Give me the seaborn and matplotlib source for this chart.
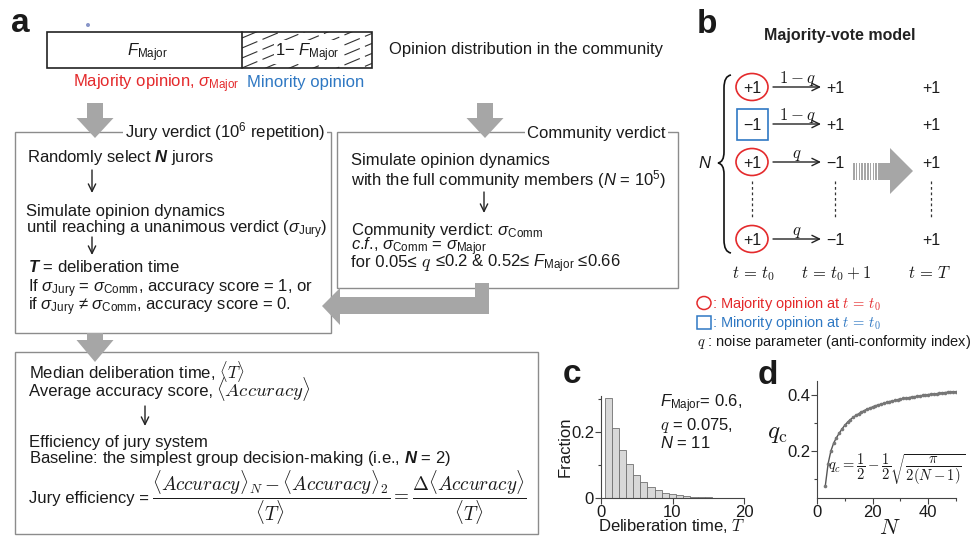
import matplotlib
matplotlib.use('Agg')
import matplotlib.pyplot as plt
import seaborn as sns
from matplotlib.patches import Rectangle, Ellipse, Polygon, PathPatch
from matplotlib.path import Path

# panel c: fraction of trials per deliberation time T
delib_T = list(range(1, 20))
delib_frac = [0.305, 0.214, 0.146, 0.102, 0.071, 0.049, 0.034, 0.023, 0.016, 0.011,
              0.008, 0.0055, 0.004, 0.003, 0.002, 0.0015, 0.001, 0.0008, 0.0005]
delib_edges = [t - 0.5 for t in delib_T] + [delib_T[-1] + 0.5]

# panel d: critical noise q_c vs jury size N
jury_N = list(range(3, 51))
qc_vals = [0.077, 0.155, 0.200, 0.228, 0.247, 0.263, 0.278, 0.291, 0.302, 0.311,
           0.319, 0.326, 0.332, 0.338, 0.343, 0.348, 0.352, 0.356, 0.360, 0.363,
           0.366, 0.369, 0.372, 0.375, 0.377, 0.379, 0.382, 0.384, 0.386, 0.387,
           0.389, 0.391, 0.392, 0.394, 0.395, 0.397, 0.398, 0.400, 0.401, 0.402,
           0.403, 0.404, 0.406, 0.407, 0.408, 0.409, 0.410, 0.410]

c_xticks = [0, 10, 20]
c_yticks = [0, 0.2]
c_yticklabels = ['0', '0.2']
d_xticks = [0, 20, 40]
d_yticks = [0.2, 0.4]
d_yticklabels = ['0.2', '0.4']

RED = '#e42a2c'
BLUE = '#2f78c3'
ARROW = '#a6a6a6'
BOXC = '#8c8c8c'
INK = '#1a1a1a'

S_MAJ = r'_{\rm Major}'
S_JURY = r'_{\rm Jury}'
S_COMM = r'_{\rm Comm}'

sns.set_style('ticks')
plt.rcParams['font.family'] = ['Liberation Sans', 'DejaVu Sans']
plt.rcParams['mathtext.fontset'] = 'custom'
plt.rcParams['mathtext.rm'] = 'Liberation Sans'
plt.rcParams['mathtext.it'] = 'Liberation Sans:italic'
plt.rcParams['mathtext.bf'] = 'Liberation Sans:italic:bold'
plt.rcParams['font.size'] = 12
plt.rcParams['text.color'] = INK

fig = plt.figure(figsize=(9.73, 5.38), dpi=100)
bg = fig.add_axes([0, 0, 1, 1])
bg.set_xlim(0, 973)
bg.set_ylim(538, 0)
bg.axis('off')
renderer = fig.canvas.get_renderer()


def put(ax, x, y, parts, size=12, color=INK, **kw):
    # lay text pieces side by side; numbers are extra gaps in pixels
    for p in parts:
        if isinstance(p, (int, float)):
            x += p
            continue
        if isinstance(p, tuple):
            s, fam = p[0], p[1]
            sz = p[2] if len(p) > 2 else size
        else:
            s, fam, sz = p, 'custom', size
        t = ax.text(x, y, s, fontsize=sz, color=color, math_fontfamily=fam,
                    va='baseline', ha='left', transform=bg.transData, **kw)
        x += t.get_window_extent(renderer).width
    return x


def thin_arrow(x0, y0, x1, y1):
    bg.annotate('', xy=(x1, y1), xytext=(x0, y0),
                arrowprops=dict(arrowstyle='->,head_length=0.45,head_width=0.22',
                                lw=1.0, color='#222', shrinkA=0, shrinkB=0))


def box(x0, y0, x1, y1):
    bg.add_patch(Rectangle((x0, y0), x1 - x0, y1 - y0, fill=False, ec=BOXC, lw=1.0, zorder=1))


def down_arrow(xc, y0, y1, y2, sw=8, hw=18.5):
    bg.add_patch(Polygon([(xc - sw, y0), (xc + sw, y0), (xc + sw, y1), (xc + hw, y1),
                          (xc, y2), (xc - hw, y1), (xc - sw, y1)], closed=True,
                         fc=ARROW, ec='none', zorder=5))


# ---------------- panel a ----------------
bg.text(20, 32, 'a', fontsize=24, fontweight='bold', ha='center', va='baseline')
bg.add_patch(Ellipse((88, 25), 4, 4, fc='#8895c8', ec='none'))
bg.add_patch(Rectangle((47, 32), 325, 36, fill=False, ec='#222', lw=1.2, zorder=3))
bg.plot([242, 242], [32, 68], color='#222', lw=1.2, zorder=3)
clip = Rectangle((242, 32), 130, 36, fill=False, ec='none')
bg.add_patch(clip)
for y0 in range(38, 130, 10):
    ln, = bg.plot([242, 372], [y0, y0 - 0.42 * 130], color='#333', lw=0.8,
                  ls=(0, (15, 5)), zorder=2)
    ln.set_clip_path(clip)
bg.text(148, 56, '$F' + S_MAJ + '$', fontsize=12, ha='center', va='baseline')
bg.text(307, 56, '1− $F' + S_MAJ + '$', fontsize=12, ha='center', va='baseline',
        bbox=dict(fc='white', ec='none', pad=0.5), zorder=4)
bg.text(389, 54, 'Opinion distribution in the community', fontsize=12, va='baseline')
bg.text(73, 87, r'Majority opinion, $\sigma' + S_MAJ + '$', fontsize=12, color=RED, va='baseline')
bg.text(247, 87, 'Minority opinion', fontsize=12, color=BLUE, va='baseline')

down_arrow(95, 103, 118, 138)
down_arrow(485, 103, 118, 138)

# jury box
box(15, 132, 331, 333)
bg.text(125, 137, r'Jury verdict (10$^6$ repetition)', fontsize=12, va='baseline',
        bbox=dict(fc='white', ec='none', pad=1.5), zorder=2)
bg.text(27, 162, r'Randomly select $\mathbf{N}$ jurors', fontsize=12, va='baseline')
thin_arrow(92, 170, 92, 193)
bg.text(26, 216, 'Simulate opinion dynamics', fontsize=12, va='baseline')
bg.text(26, 233, r'until reaching a unanimous verdict ($\sigma' + S_JURY + '$)', fontsize=12, va='baseline')
thin_arrow(92, 237, 92, 255)
bg.text(28, 272, r'$\mathbf{T}$ = deliberation time', fontsize=12, va='baseline')
bg.text(28, 292, r'If $\sigma' + S_JURY + r'$ = $\sigma' + S_COMM + '$, accuracy score = 1, or',
        fontsize=12, va='baseline')
bg.text(28, 310, r'if $\sigma' + S_JURY + r'$ ≠ $\sigma' + S_COMM + '$, accuracy score = 0.',
        fontsize=12, va='baseline')

# community box
box(337, 132, 678, 288)
bg.text(527, 138, 'Community verdict', fontsize=12, va='baseline',
        bbox=dict(fc='white', ec='none', pad=1.5), zorder=2)
bg.text(351, 165, 'Simulate opinion dynamics', fontsize=12, va='baseline')
bg.text(351, 185, r'with the full community members ($N$ = 10$^5$)', fontsize=12, va='baseline')
thin_arrow(484, 192, 484, 213)
bg.text(351, 235, r'Community verdict: $\sigma' + S_COMM + '$', fontsize=12, va='baseline')
bg.text(351, 250, r'$c$.$f$., $\sigma' + S_COMM + r'$ = $\sigma' + S_MAJ + '$', fontsize=12, va='baseline')
put(bg, 351, 267, ['for 0.05≤', 4, ('$q$', 'cm', 13), 4,
                   '≤0.2 & 0.52≤ $F' + S_MAJ + '$ ≤0.66'])

# elbow arrow from community to jury box
bg.add_patch(Polygon([(475, 283), (489, 283), (489, 314), (340, 314), (340, 325),
                      (322, 306), (340, 288), (340, 297), (475, 297)],
                     closed=True, fc=ARROW, ec='none', zorder=5))

down_arrow(95, 333, 340, 362)

# bottom box
box(15, 352, 538, 534)
bg.text(29, 378, r'Median deliberation time, $\langle T\rangle$', fontsize=12,
        math_fontfamily='cm', va='baseline')
put(bg, 29, 396, ['Average accuracy score,', 3, (r'$\langle Accuracy\rangle$', 'cm', 13.5)])
thin_arrow(145, 406, 145, 426)
bg.text(29, 447, 'Efficiency of jury system', fontsize=12, va='baseline')
bg.text(29, 463, r'Baseline: the simplest group decision-making (i.e., $\mathbf{N}$ = 2)',
        fontsize=12, va='baseline')
put(bg, 29, 503, ['Jury efficiency =', 3,
                  (r'$\dfrac{\langle Accuracy\rangle_N - \langle Accuracy\rangle_2}{\langle T\rangle}'
                   r' = \dfrac{\Delta\langle Accuracy\rangle}{\langle T\rangle}$', 'cm', 13.8)])

# ---------------- panel b ----------------
bg.text(707, 33, 'b', fontsize=24, fontweight='bold', ha='center', va='baseline')
bg.text(840, 40, 'Majority-vote model', fontsize=11.5, fontweight='bold', ha='center',
        va='baseline', color='#222')

rows = [87, 124, 162, 239]
left_vals = ['+1', '−1', '+1', '+1']
mid_vals = ['+1', '+1', '−1', '−1']
arrow_lbl = ['$1-q$', '$1-q$', '$q$', '$q$']
for i, ry in enumerate(rows):
    if i == 1:
        bg.add_patch(Rectangle((737, ry - 15.5), 31, 31, fill=False, ec=BLUE, lw=1.2))
    else:
        bg.add_patch(Ellipse((752, ry), 32, 27, fill=False, ec=RED, lw=1.2))
    bg.text(752, ry + 6, left_vals[i], fontsize=11.5, ha='center', va='baseline')
    thin_arrow(773, ry, 821, ry)
    bg.text(797, ry - 4, arrow_lbl[i], fontsize=12, ha='center', va='baseline',
            math_fontfamily='cm')
    bg.text(835, ry + 6, mid_vals[i], fontsize=11.5, ha='center', va='baseline')
    bg.text(931, ry + 6, '+1', fontsize=11.5, ha='center', va='baseline')
for xc in [752, 835, 931]:
    bg.plot([xc, xc], [181, 217], color='#333', lw=0.9, ls=(0, (2.2, 2.2)))

brace = Path([(731, 75), (724, 76), (724, 88), (724, 152), (724, 162), (718, 163),
              (724, 164), (724, 174), (724, 240), (724, 252), (731, 253)],
             [Path.MOVETO, Path.CURVE3, Path.CURVE3, Path.LINETO, Path.CURVE3, Path.CURVE3,
              Path.CURVE3, Path.CURVE3, Path.LINETO, Path.CURVE3, Path.CURVE3])
bg.add_patch(PathPatch(brace, fill=False, ec='#111', lw=1.2))
bg.text(705, 168, '$N$', fontsize=12, ha='center', va='baseline')

# big striped arrow
for k in range(9):
    bg.add_patch(Rectangle((853 + k * 2.8, 163), 1.6, 17, fc=ARROW, ec='none'))
bg.add_patch(Polygon([(878, 163), (890, 163), (890, 148), (913, 171), (890, 194),
                      (890, 180), (878, 180)], closed=True, fc=ARROW, ec='none'))

bg.text(754, 278, '$t\\,=\\,t_0$', fontsize=12, ha='center', va='baseline', math_fontfamily='cm')
bg.text(836, 278, '$t\\,=\\,t_0+1$', fontsize=12, ha='center', va='baseline', math_fontfamily='cm')
bg.text(930, 278, '$t\\,=\\,T$', fontsize=12, ha='center', va='baseline', math_fontfamily='cm')

bg.add_patch(Ellipse((704, 303), 14, 13, fill=False, ec=RED, lw=1.1))
bg.text(712, 308, ': Majority opinion at $t\\,=\\,t_0$', fontsize=10.5, color=RED,
        va='baseline', math_fontfamily='cm')
bg.add_patch(Rectangle((697, 316), 14, 13, fill=False, ec=BLUE, lw=1.1))
bg.text(712, 327, ': Minority opinion at $t\\,=\\,t_0$', fontsize=10.5, color=BLUE,
        va='baseline', math_fontfamily='cm')
bg.text(697, 346, '$q$ : noise parameter (anti-conformity index)', fontsize=10.5,
        va='baseline', math_fontfamily='cm')

# ---------------- panel c ----------------
bg.text(572, 383, 'c', fontsize=24, fontweight='bold', ha='center', va='baseline')
axc = fig.add_axes([601 / 973, 1 - 498 / 538, 143 / 973, 102 / 538])
sns.histplot(x=delib_T, weights=delib_frac, bins=delib_edges, ax=axc,
             color='#d8d8d8', edgecolor='#707070', linewidth=0.6, alpha=1)
axc.set_xlim(0, 20)
axc.set_ylim(0, 0.31)
axc.set_xticks(c_xticks)
axc.set_yticks(c_yticks)
axc.set_yticklabels(c_yticklabels)
axc.set_yticks([0.1, 0.3], minor=True)
axc.set_xlabel('')
axc.set_ylabel('')
sns.despine(ax=axc)
put(axc, 660, 407, ['$F' + S_MAJ + '$= 0.6,'])
put(axc, 660, 430, [('$q$ = 0.075,', 'cm')])
put(axc, 660, 448, ['$N$ = 11'])
bg.text(672, 531, 'Deliberation time, $T$', fontsize=12, ha='center', va='baseline',
        math_fontfamily='cm')
bg.text(565, 447, 'Fraction', fontsize=12, ha='center', va='center', rotation=90)

# ---------------- panel d ----------------
bg.text(768, 384, 'd', fontsize=24, fontweight='bold', ha='center', va='baseline')
axd = fig.add_axes([817 / 973, 1 - 498 / 538, 139 / 973, 117 / 538])
sns.lineplot(x=jury_N, y=qc_vals, ax=axd, color='#555555', lw=1.0, marker='o',
             markersize=2.6, markeredgewidth=0, markerfacecolor='#777777')
axd.set_xlim(0, 50)
axd.set_ylim(0.033, 0.448)
axd.set_xticks(d_xticks)
axd.set_xticks([10, 30, 50], minor=True)
axd.set_yticks(d_yticks)
axd.set_yticklabels(d_yticklabels)
axd.set_yticks([0.1, 0.3], minor=True)
axd.set_xlabel('')
axd.set_ylabel('')
sns.despine(ax=axd)
axd.text(828, 469, r'$q_c = \dfrac{1}{2} - \dfrac{1}{2}\sqrt{\dfrac{\pi}{2(N-1)}}$',
         fontsize=10.5, math_fontfamily='cm', va='center', ha='left', transform=bg.transData)
bg.text(777, 438, r'$q_{\rm c}$', fontsize=18, ha='center', va='baseline', math_fontfamily='cm')
bg.text(890, 534, '$N$', fontsize=16, ha='center', va='baseline', math_fontfamily='cm')

for a in (axc, axd):
    a.tick_params(which='major', length=4, width=0.8, pad=1, labelsize=12, color='#444',
                  labelcolor=INK)
    a.tick_params(which='minor', length=2.5, width=0.8, color='#444')
    for s in ('left', 'bottom'):
        a.spines[s].set_linewidth(0.8)
        a.spines[s].set_color('#444')

fig.savefig('out.png', dpi=100)
